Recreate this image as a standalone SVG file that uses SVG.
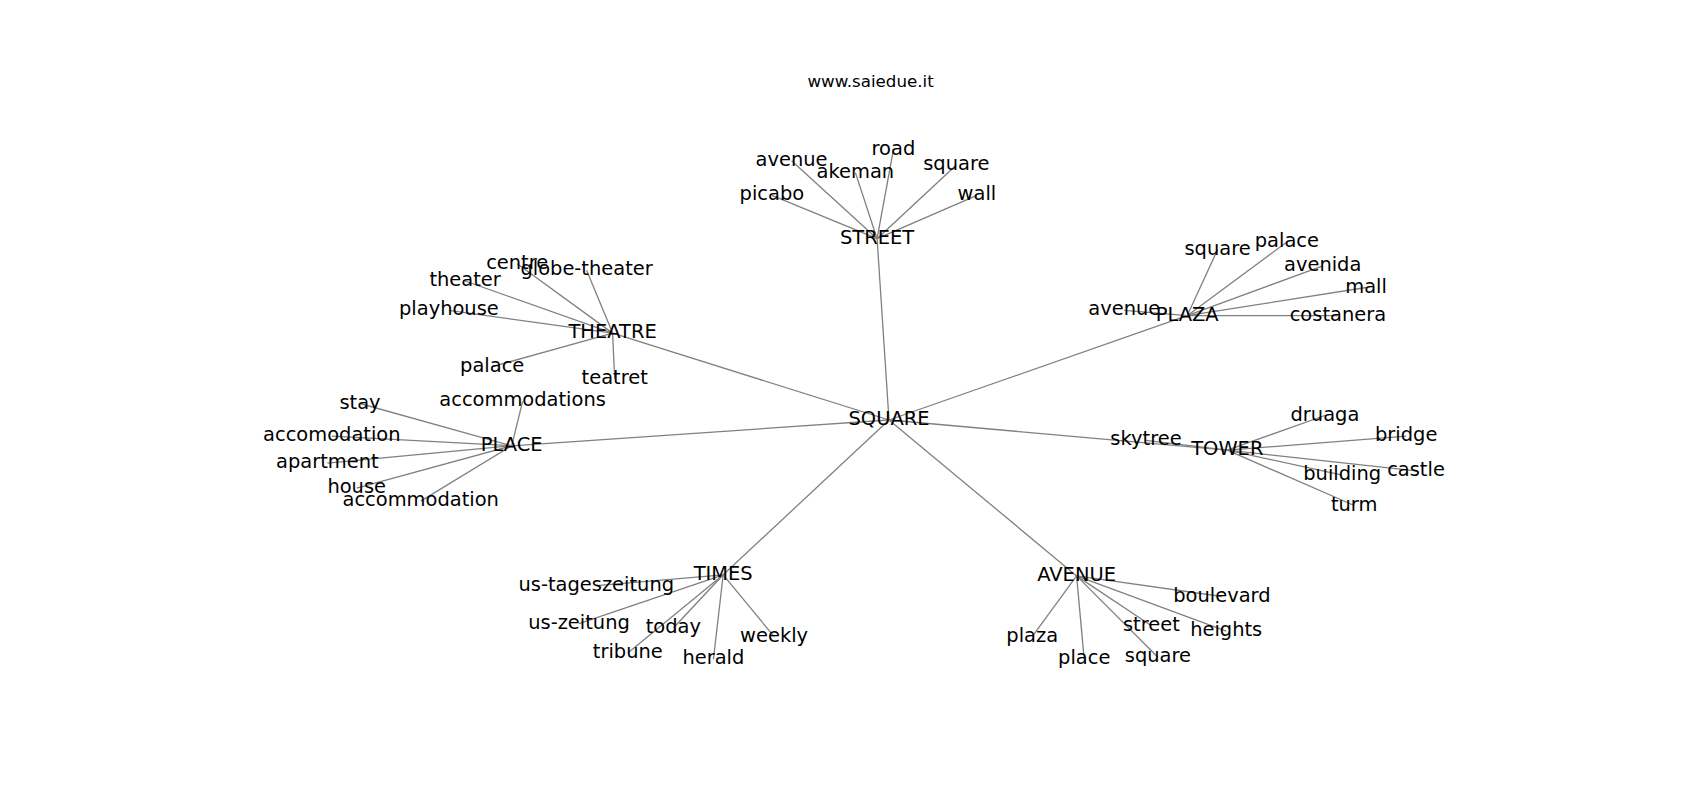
<svg xmlns="http://www.w3.org/2000/svg" width="1700" height="800" viewBox="0 0 1700 800">
<style>
.e{stroke:#808080;stroke-width:1.3;fill:none}
text{font-family:"DejaVu Sans","Liberation Sans",sans-serif;fill:#000;text-anchor:middle}
.n{font-size:19.44px}
.t{font-size:16.67px}
</style>
<rect width="1700" height="800" fill="#fff"/>
<text class="t" x="870.6" y="86.5">www.saiedue.it</text>
<g id="connectors">
<line class="e" x1="889" y1="420" x2="877.1" y2="238.7"/>
<line class="e" x1="889" y1="420" x2="612.6" y2="333.1"/>
<line class="e" x1="889" y1="420" x2="1187.2" y2="315.7"/>
<line class="e" x1="889" y1="420" x2="511.7" y2="445.8"/>
<line class="e" x1="889" y1="420" x2="1227.3" y2="450.2"/>
<line class="e" x1="889" y1="420" x2="723.2" y2="574.8"/>
<line class="e" x1="889" y1="420" x2="1076.6" y2="575.9"/>
<line class="e" x1="877.1" y1="238.7" x2="791.6" y2="160.7"/>
<line class="e" x1="877.1" y1="238.7" x2="855.4" y2="172.6"/>
<line class="e" x1="877.1" y1="238.7" x2="893.4" y2="149.8"/>
<line class="e" x1="877.1" y1="238.7" x2="956.3" y2="165"/>
<line class="e" x1="877.1" y1="238.7" x2="976.9" y2="195.4"/>
<line class="e" x1="877.1" y1="238.7" x2="771.9" y2="195.4"/>
<line class="e" x1="612.6" y1="333.1" x2="517.2" y2="263.7"/>
<line class="e" x1="612.6" y1="333.1" x2="586.6" y2="270.2"/>
<line class="e" x1="612.6" y1="333.1" x2="465.1" y2="281"/>
<line class="e" x1="612.6" y1="333.1" x2="448.9" y2="310.3"/>
<line class="e" x1="612.6" y1="333.1" x2="492.2" y2="366.7"/>
<line class="e" x1="612.6" y1="333.1" x2="614.7" y2="378.6"/>
<line class="e" x1="1187.2" y1="315.7" x2="1124.3" y2="310.3"/>
<line class="e" x1="1187.2" y1="315.7" x2="1217.6" y2="249.6"/>
<line class="e" x1="1187.2" y1="315.7" x2="1286.9" y2="242"/>
<line class="e" x1="1187.2" y1="315.7" x2="1322.7" y2="265.8"/>
<line class="e" x1="1187.2" y1="315.7" x2="1366.1" y2="287.5"/>
<line class="e" x1="1187.2" y1="315.7" x2="1337.9" y2="315.7"/>
<line class="e" x1="511.7" y1="445.8" x2="360" y2="403.5"/>
<line class="e" x1="511.7" y1="445.8" x2="522.6" y2="401.4"/>
<line class="e" x1="511.7" y1="445.8" x2="331.8" y2="436.1"/>
<line class="e" x1="511.7" y1="445.8" x2="327.4" y2="463.2"/>
<line class="e" x1="511.7" y1="445.8" x2="356.7" y2="488.1"/>
<line class="e" x1="511.7" y1="445.8" x2="420.7" y2="501.1"/>
<line class="e" x1="1227.3" y1="450.2" x2="1146" y2="440.4"/>
<line class="e" x1="1227.3" y1="450.2" x2="1324.9" y2="415.5"/>
<line class="e" x1="1227.3" y1="450.2" x2="1406.2" y2="436.1"/>
<line class="e" x1="1227.3" y1="450.2" x2="1342.2" y2="475.1"/>
<line class="e" x1="1227.3" y1="450.2" x2="1416" y2="470.8"/>
<line class="e" x1="1227.3" y1="450.2" x2="1354.2" y2="505.5"/>
<line class="e" x1="723.2" y1="574.8" x2="596.3" y2="585.7"/>
<line class="e" x1="723.2" y1="574.8" x2="579" y2="623.6"/>
<line class="e" x1="723.2" y1="574.8" x2="673.3" y2="628"/>
<line class="e" x1="723.2" y1="574.8" x2="627.8" y2="652.9"/>
<line class="e" x1="723.2" y1="574.8" x2="713.4" y2="659.4"/>
<line class="e" x1="723.2" y1="574.8" x2="774.1" y2="636.6"/>
<line class="e" x1="1076.6" y1="575.9" x2="1221.9" y2="596.5"/>
<line class="e" x1="1076.6" y1="575.9" x2="1032.2" y2="636.6"/>
<line class="e" x1="1076.6" y1="575.9" x2="1084.2" y2="659.4"/>
<line class="e" x1="1076.6" y1="575.9" x2="1151.4" y2="625.8"/>
<line class="e" x1="1076.6" y1="575.9" x2="1226.2" y2="631.2"/>
<line class="e" x1="1076.6" y1="575.9" x2="1157.9" y2="657.2"/>
</g>
<g id="labels" transform="translate(0,-1)">
<g id="SQUARE"><text class="n" x="889" y="426">SQUARE</text></g>
<g id="STREET"><text class="n" x="877.1" y="244.7">STREET</text></g>
<g id="street-avenue"><text class="n" x="791.6" y="166.7">avenue</text></g>
<g id="street-akeman"><text class="n" x="855.4" y="178.6">akeman</text></g>
<g id="street-road"><text class="n" x="893.4" y="155.8">road</text></g>
<g id="street-square"><text class="n" x="956.3" y="171">square</text></g>
<g id="street-wall"><text class="n" x="976.9" y="201.4">wall</text></g>
<g id="street-picabo"><text class="n" x="771.9" y="201.4">picabo</text></g>
<g id="THEATRE"><text class="n" x="612.6" y="339.1">THEATRE</text></g>
<g id="theatre-centre"><text class="n" x="517.2" y="269.7">centre</text></g>
<g id="theatre-globe-theater"><text class="n" x="586.6" y="276.2">globe-theater</text></g>
<g id="theatre-theater"><text class="n" x="465.1" y="287">theater</text></g>
<g id="theatre-playhouse"><text class="n" x="448.9" y="316.3">playhouse</text></g>
<g id="theatre-palace"><text class="n" x="492.2" y="372.7">palace</text></g>
<g id="theatre-teatret"><text class="n" x="614.7" y="384.6">teatret</text></g>
<g id="PLAZA"><text class="n" x="1187.2" y="321.7">PLAZA</text></g>
<g id="plaza-avenue"><text class="n" x="1124.3" y="316.3">avenue</text></g>
<g id="plaza-square"><text class="n" x="1217.6" y="255.6">square</text></g>
<g id="plaza-palace"><text class="n" x="1286.9" y="248">palace</text></g>
<g id="plaza-avenida"><text class="n" x="1322.7" y="271.8">avenida</text></g>
<g id="plaza-mall"><text class="n" x="1366.1" y="293.5">mall</text></g>
<g id="plaza-costanera"><text class="n" x="1337.9" y="321.7">costanera</text></g>
<g id="PLACE"><text class="n" x="511.7" y="451.8">PLACE</text></g>
<g id="place-stay"><text class="n" x="360" y="409.5">stay</text></g>
<g id="place-accommodations"><text class="n" x="522.6" y="407.4">accommodations</text></g>
<g id="place-accomodation"><text class="n" x="331.8" y="442.1">accomodation</text></g>
<g id="place-apartment"><text class="n" x="327.4" y="469.2">apartment</text></g>
<g id="place-house"><text class="n" x="356.7" y="494.1">house</text></g>
<g id="place-accommodation"><text class="n" x="420.7" y="507.1">accommodation</text></g>
<g id="TOWER"><text class="n" x="1227.3" y="456.2">TOWER</text></g>
<g id="tower-skytree"><text class="n" x="1146" y="446.4">skytree</text></g>
<g id="tower-druaga"><text class="n" x="1324.9" y="421.5">druaga</text></g>
<g id="tower-bridge"><text class="n" x="1406.2" y="442.1">bridge</text></g>
<g id="tower-building"><text class="n" x="1342.2" y="481.1">building</text></g>
<g id="tower-castle"><text class="n" x="1416" y="476.8">castle</text></g>
<g id="tower-turm"><text class="n" x="1354.2" y="511.5">turm</text></g>
<g id="TIMES"><text class="n" x="723.2" y="580.8">TIMES</text></g>
<g id="times-us-tageszeitung"><text class="n" x="596.3" y="591.7">us-tageszeitung</text></g>
<g id="times-us-zeitung"><text class="n" x="579" y="629.6">us-zeitung</text></g>
<g id="times-today"><text class="n" x="673.3" y="634">today</text></g>
<g id="times-tribune"><text class="n" x="627.8" y="658.9">tribune</text></g>
<g id="times-herald"><text class="n" x="713.4" y="665.4">herald</text></g>
<g id="times-weekly"><text class="n" x="774.1" y="642.6">weekly</text></g>
<g id="AVENUE"><text class="n" x="1076.6" y="581.9">AVENUE</text></g>
<g id="avenue-boulevard"><text class="n" x="1221.9" y="602.5">boulevard</text></g>
<g id="avenue-plaza"><text class="n" x="1032.2" y="642.6">plaza</text></g>
<g id="avenue-place"><text class="n" x="1084.2" y="665.4">place</text></g>
<g id="avenue-street"><text class="n" x="1151.4" y="631.8">street</text></g>
<g id="avenue-heights"><text class="n" x="1226.2" y="637.2">heights</text></g>
<g id="avenue-square"><text class="n" x="1157.9" y="663.2">square</text></g>
</g>
</svg>
